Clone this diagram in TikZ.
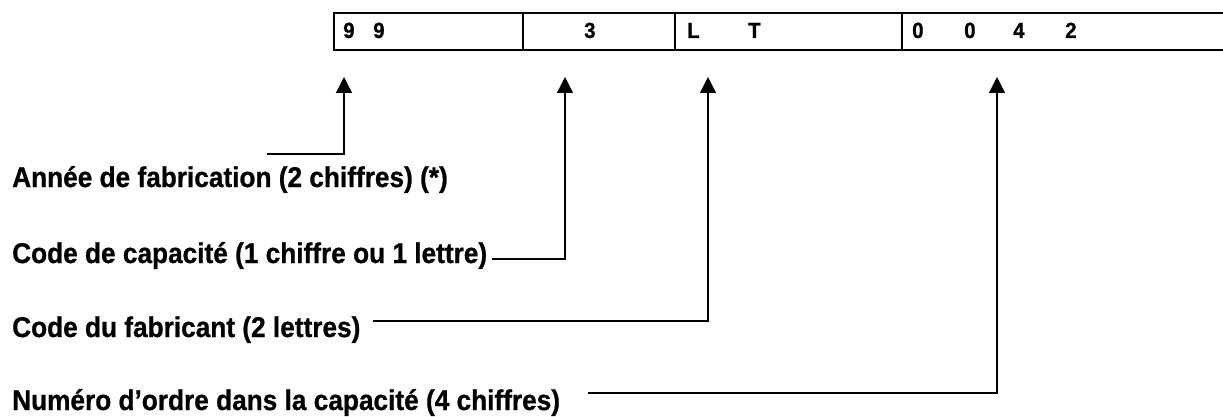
\documentclass[tikz,border=0pt]{standalone}
\usepackage{fontspec}
\usetikzlibrary{arrows.meta}
\newfontfamily\labfont[FakeStretch=0.92,FakeBold=0.8]{Liberation Sans}
\newfontfamily\digfont[FakeStretch=0.93,FakeBold=0.8]{Liberation Sans}
\begin{document}
\begin{tikzpicture}[x=1pt,y=-1pt,
  lab/.style={font=\labfont\bfseries\fontsize{28.5}{34}\selectfont, anchor=base west, inner sep=0pt},
  dig/.style={font=\digfont\bfseries\fontsize{22}{26}\selectfont, anchor=base west, inner sep=0pt},
  frame/.style={line width=2pt},
  divider/.style={line width=1.4pt},
  conn/.style={line width=1.3pt, -{Triangle[width=16pt,length=16pt]}}]
\useasboundingbox (0,0) rectangle (1223,417);
% code box
\draw[frame] (1223,13) -- (334,13) -- (334,50) -- (1223,50);
\draw[divider] (523,13) -- (523,50);
\draw[divider] (675,13) -- (675,50);
\draw[divider] (902,13) -- (902,50);
% characters
\node[dig] (d1) at (343,38) {9};
\node[dig] (d2) at (373,38) {9};
\node[dig] (d3) at (584,38) {3};
\node[dig] (d4) at (687,38) {L};
\node[dig] (d5) at (748,38) {T};
\node[dig] (d6) at (912,38) {0};
\node[dig] (d7) at (964,38) {0};
\node[dig] (d8) at (1013,38) {4};
\node[dig] (d9) at (1065,38) {2};
% labels
\node[lab] (la) at (12,187) {Année de fabrication (2 chiffres) (*)};
\node[lab] (lb) at (12,263) {Code de capacité (1 chiffre ou 1 lettre)};
\node[lab] (lc) at (12,337) {Code du fabricant (2 lettres)};
\node[lab] (ld) at (12,410) {Numéro d’ordre dans la capacité (4 chiffres)};
% connector ends
\coordinate (s1) at (267,154);
\coordinate (t1) at (344,77);
\coordinate (s2) at (492,259);
\coordinate (t2) at (565,77);
\coordinate (s3) at (373,321);
\coordinate (t3) at (708,77);
\coordinate (s4) at (588,393);
\coordinate (t4) at (997,77);
\draw[conn] (s1) -| (t1);
\draw[conn] (s2) -| (t2);
\draw[conn] (s3) -| (t3);
\draw[conn] (s4) -| (t4);
\end{tikzpicture}
\end{document}
